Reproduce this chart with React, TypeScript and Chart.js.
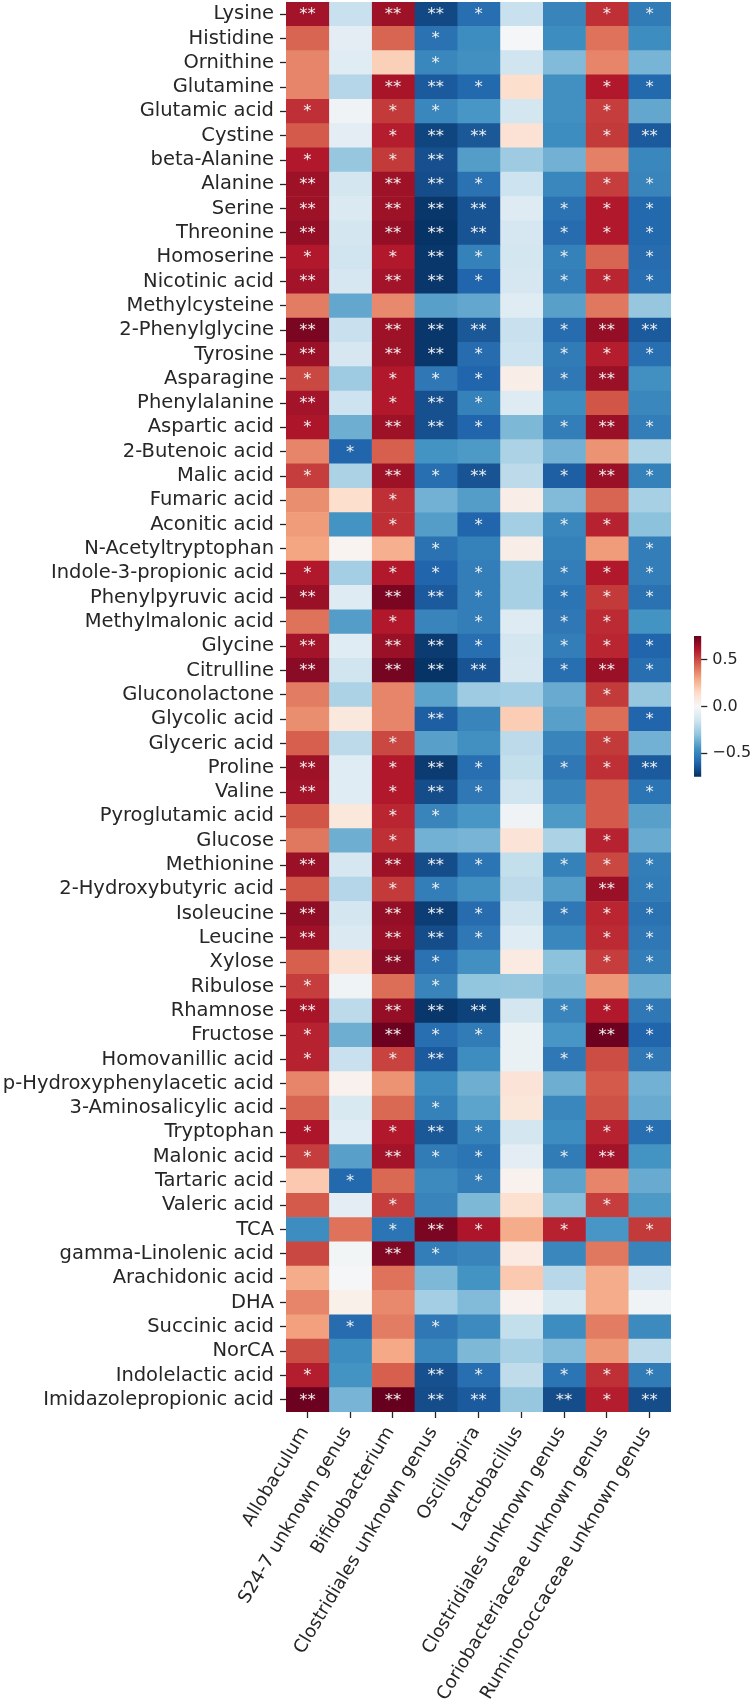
import React, { useEffect, useRef } from "react";
import { Chart, registerables } from "chart.js";

Chart.register(...registerables);

const metabolites = [
  "Lysine", "Histidine", "Ornithine", "Glutamine", "Glutamic acid", "Cystine", "beta-Alanine", "Alanine", "Serine", "Threonine",
  "Homoserine", "Nicotinic acid", "Methylcysteine", "2-Phenylglycine", "Tyrosine", "Asparagine", "Phenylalanine", "Aspartic acid", "2-Butenoic acid", "Malic acid",
  "Fumaric acid", "Aconitic acid", "N-Acetyltryptophan", "Indole-3-propionic acid", "Phenylpyruvic acid", "Methylmalonic acid", "Glycine", "Citrulline", "Gluconolactone", "Glycolic acid",
  "Glyceric acid", "Proline", "Valine", "Pyroglutamic acid", "Glucose", "Methionine", "2-Hydroxybutyric acid", "Isoleucine", "Leucine", "Xylose",
  "Ribulose", "Rhamnose", "Fructose", "Homovanillic acid", "p-Hydroxyphenylacetic acid", "3-Aminosalicylic acid", "Tryptophan", "Malonic acid", "Tartaric acid", "Valeric acid",
  "TCA", "gamma-Linolenic acid", "Arachidonic acid", "DHA", "Succinic acid", "NorCA", "Indolelactic acid", "Imidazolepropionic acid",
];

const genera = [
  "Allobaculum", "S24-7 unknown genus", "Bifidobacterium", "Clostridiales unknown genus", "Oscillospira", "Lactobacillus",
  "Clostridiales unknown genus", "Coriobacteriaceae unknown genus", "Ruminococcaceae unknown genus",
];

const allobaculum = [0.63,0.44,0.37,0.37,0.55,0.46,0.6,0.64,0.64,0.66,0.6,0.63,0.39,0.71,0.65,0.5,0.63,0.61,0.37,0.52,0.35,0.32,0.3,0.6,0.65,0.41,0.63,0.68,0.39,0.35,0.45,0.64,0.63,0.47,0.4,0.65,0.47,0.67,0.64,0.45,0.52,0.62,0.58,0.58,0.37,0.44,0.61,0.52,0.2,0.46,-0.47,0.5,0.28,0.37,0.31,0.49,0.59,0.74];
const s24 = [-0.17,-0.08,-0.09,-0.22,-0.03,-0.08,-0.29,-0.14,-0.11,-0.14,-0.15,-0.13,-0.39,-0.17,-0.13,-0.27,-0.16,-0.37,-0.6,-0.24,0.13,-0.45,0.02,-0.26,-0.1,-0.42,-0.09,-0.15,-0.24,0.08,-0.2,-0.09,-0.09,0.08,-0.37,-0.13,-0.22,-0.14,-0.11,0.11,-0.03,-0.2,-0.37,-0.17,0.03,-0.12,-0.09,-0.41,-0.59,-0.08,0.41,-0.02,-0.01,0.04,-0.58,-0.47,-0.45,-0.35];
const bifido = [0.64,0.44,0.18,0.62,0.53,0.59,0.53,0.64,0.64,0.66,0.6,0.63,0.36,0.64,0.64,0.6,0.6,0.64,0.45,0.64,0.55,0.55,0.27,0.6,0.71,0.6,0.65,0.72,0.37,0.37,0.5,0.6,0.6,0.57,0.55,0.64,0.53,0.66,0.65,0.68,0.42,0.66,0.74,0.51,0.34,0.43,0.6,0.63,0.43,0.52,-0.55,0.7,0.41,0.36,0.39,0.29,0.45,0.75];
const clostridialesA = [-0.68,-0.56,-0.49,-0.63,-0.49,-0.69,-0.66,-0.67,-0.73,-0.74,-0.73,-0.73,-0.41,-0.73,-0.73,-0.54,-0.66,-0.66,-0.45,-0.57,-0.36,-0.42,-0.56,-0.6,-0.63,-0.5,-0.72,-0.74,-0.4,-0.62,-0.41,-0.72,-0.67,-0.5,-0.36,-0.67,-0.52,-0.71,-0.67,-0.56,-0.5,-0.73,-0.57,-0.63,-0.47,-0.51,-0.64,-0.53,-0.48,-0.5,0.71,-0.52,-0.34,-0.26,-0.54,-0.49,-0.66,-0.67];
const oscillospira = [-0.57,-0.47,-0.46,-0.59,-0.44,-0.64,-0.42,-0.56,-0.65,-0.65,-0.51,-0.6,-0.39,-0.64,-0.58,-0.6,-0.51,-0.6,-0.43,-0.65,-0.42,-0.6,-0.51,-0.52,-0.52,-0.52,-0.57,-0.65,-0.27,-0.5,-0.46,-0.57,-0.54,-0.44,-0.35,-0.55,-0.46,-0.58,-0.54,-0.46,-0.3,-0.7,-0.53,-0.47,-0.37,-0.4,-0.51,-0.55,-0.52,-0.34,0.61,-0.5,-0.45,-0.33,-0.48,-0.34,-0.57,-0.63];
const lactobacillus = [-0.17,-0.01,-0.15,0.13,-0.14,0.11,-0.27,-0.16,-0.1,-0.13,-0.14,-0.13,-0.09,-0.17,-0.16,0.05,-0.1,-0.34,-0.24,-0.2,0.05,-0.26,0.05,-0.25,-0.25,-0.1,-0.14,-0.13,-0.26,0.19,-0.2,-0.18,-0.15,-0.03,0.1,-0.18,-0.2,-0.15,-0.09,0.07,-0.29,-0.14,-0.05,-0.05,0.1,0.09,-0.14,-0.08,0.03,0.12,0.28,0.07,0.2,0.03,-0.18,-0.25,-0.19,-0.29];
const clostridialesB = [-0.5,-0.47,-0.33,-0.46,-0.46,-0.47,-0.36,-0.49,-0.56,-0.58,-0.51,-0.52,-0.41,-0.58,-0.53,-0.54,-0.47,-0.52,-0.36,-0.62,-0.33,-0.49,-0.51,-0.52,-0.55,-0.54,-0.52,-0.57,-0.38,-0.41,-0.5,-0.54,-0.5,-0.43,-0.24,-0.51,-0.42,-0.54,-0.49,-0.31,-0.34,-0.5,-0.44,-0.54,-0.37,-0.49,-0.47,-0.53,-0.4,-0.32,0.58,-0.49,-0.21,-0.12,-0.47,-0.33,-0.55,-0.67];
const coriobacteriaceae = [0.55,0.41,0.37,0.6,0.52,0.53,0.38,0.52,0.6,0.6,0.44,0.57,0.4,0.66,0.59,0.65,0.47,0.65,0.34,0.65,0.44,0.58,0.32,0.6,0.53,0.56,0.57,0.65,0.53,0.42,0.53,0.55,0.46,0.46,0.58,0.5,0.65,0.57,0.56,0.52,0.33,0.6,0.74,0.49,0.46,0.48,0.58,0.63,0.37,0.52,-0.44,0.4,0.28,0.28,0.39,0.33,0.55,0.59];
const ruminococcaceae = [-0.53,-0.47,-0.35,-0.59,-0.39,-0.63,-0.49,-0.5,-0.59,-0.59,-0.58,-0.57,-0.29,-0.63,-0.57,-0.46,-0.49,-0.52,-0.23,-0.51,-0.25,-0.31,-0.52,-0.52,-0.56,-0.45,-0.6,-0.57,-0.29,-0.6,-0.36,-0.63,-0.55,-0.41,-0.38,-0.52,-0.53,-0.56,-0.54,-0.52,-0.37,-0.54,-0.6,-0.54,-0.36,-0.38,-0.57,-0.45,-0.38,-0.43,0.53,-0.5,-0.13,-0.03,-0.48,-0.2,-0.53,-0.67];

const starsAllobaculum = [2,0,0,0,1,0,1,2,2,2,1,2,0,2,2,1,2,1,0,1,0,0,0,1,2,0,2,2,0,0,0,2,2,0,0,2,0,2,2,0,1,2,1,1,0,0,1,1,0,0,0,0,0,0,0,0,1,2];
const starsS24 = [0,0,0,0,0,0,0,0,0,0,0,0,0,0,0,0,0,0,1,0,0,0,0,0,0,0,0,0,0,0,0,0,0,0,0,0,0,0,0,0,0,0,0,0,0,0,0,0,1,0,0,0,0,0,1,0,0,0];
const starsBifido = [2,0,0,2,1,1,1,2,2,2,1,2,0,2,2,1,1,2,0,2,1,1,0,1,2,1,2,2,0,0,1,1,1,1,1,2,1,2,2,2,0,2,2,1,0,0,1,2,0,1,1,2,0,0,0,0,0,2];
const starsClostridialesA = [2,1,1,2,1,2,2,2,2,2,2,2,0,2,2,1,2,2,0,1,0,0,1,1,2,0,2,2,0,2,0,2,2,1,0,2,1,2,2,1,1,2,1,2,0,1,2,1,0,0,2,1,0,0,1,0,2,2];
const starsOscillospira = [1,0,0,1,0,2,0,1,2,2,1,1,0,2,1,1,1,1,0,2,0,1,0,1,1,1,1,2,0,0,0,1,1,0,0,1,0,1,1,0,0,2,1,0,0,0,1,1,1,0,1,0,0,0,0,0,1,2];
const starsLactobacillus = [0,0,0,0,0,0,0,0,0,0,0,0,0,0,0,0,0,0,0,0,0,0,0,0,0,0,0,0,0,0,0,0,0,0,0,0,0,0,0,0,0,0,0,0,0,0,0,0,0,0,0,0,0,0,0,0,0,0];
const starsClostridialesB = [0,0,0,0,0,0,0,0,1,1,1,1,0,1,1,1,0,1,0,1,0,1,0,1,1,1,1,1,0,0,0,1,0,0,0,1,0,1,0,0,0,1,0,1,0,0,0,1,0,0,1,0,0,0,0,0,1,2];
const starsCoriobacteriaceae = [1,0,0,1,1,1,0,1,1,1,0,1,0,2,1,2,0,2,0,2,0,1,0,1,1,1,1,2,1,0,1,1,0,0,1,1,2,1,1,1,0,1,2,0,0,0,1,2,0,1,0,0,0,0,0,0,1,1];
const starsRuminococcaceae = [1,0,0,1,0,2,0,1,1,1,1,1,0,2,1,0,0,1,0,1,0,0,1,1,1,0,1,1,0,1,0,2,1,0,0,1,1,1,1,1,0,1,1,1,0,0,1,0,0,0,1,0,0,0,0,0,1,2];

const seriesValues = [allobaculum, s24, bifido, clostridialesA, oscillospira, lactobacillus, clostridialesB, coriobacteriaceae, ruminococcaceae];
const seriesStars = [starsAllobaculum, starsS24, starsBifido, starsClostridialesA, starsOscillospira, starsLactobacillus, starsClostridialesB, starsCoriobacteriaceae, starsRuminococcaceae];

const colorRange = 0.75;
const colorbarTicks = [-0.5, 0, 0.5];

// matplotlib RdBu_r anchor colours
const rdBu = [
  [5, 48, 97], [33, 102, 172], [67, 147, 195], [146, 197, 222], [209, 229, 240], [247, 247, 247],
  [253, 219, 199], [244, 165, 130], [214, 96, 77], [178, 24, 43], [103, 0, 31],
];

function colorFor(v: number): string {
  const t = Math.min(1, Math.max(0, (v + colorRange) / (2 * colorRange))) * (rdBu.length - 1);
  const i = Math.min(rdBu.length - 2, Math.floor(t));
  const f = t - i;
  const c = rdBu[i].map((a, k) => Math.round(a + (rdBu[i + 1][k] - a) * f));
  return `rgb(${c[0]},${c[1]},${c[2]})`;
}

const FONT = "'DejaVu Sans'";
const INK = "#262626";

const starsPlugin = {
  id: "cellStars",
  afterDatasetsDraw(chart: any) {
    const { ctx, scales } = chart;
    ctx.save();
    ctx.fillStyle = "#f0f0f0";
    ctx.font = `16.5px ${FONT}`;
    ctx.textAlign = "center";
    ctx.textBaseline = "middle";
    seriesStars.forEach((col, j) => {
      col.forEach((n, i) => {
        if (!n) return;
        ctx.fillText("*".repeat(n), scales.x.getPixelForValue(j + 0.5), scales.y.getPixelForValue(i) + 0.6);
      });
    });
    ctx.restore();
  },
};

function clearPadding(scale: any) {
  scale.paddingTop = 0;
  scale.paddingBottom = 0;
  scale.paddingLeft = 0;
  scale.paddingRight = 0;
}

export default function App() {
  const heatRef = useRef<HTMLCanvasElement>(null);
  const barRef = useRef<HTMLCanvasElement>(null);

  useEffect(() => {
    document.body.style.margin = "0";
    const heat = new Chart(heatRef.current!, {
      type: "bar",
      data: {
        labels: metabolites,
        datasets: seriesValues.map((col, j) => ({
          label: genera[j],
          data: col.map(() => 1),
          backgroundColor: col.map(colorFor),
          borderWidth: 0,
          categoryPercentage: 1,
          barPercentage: 1,
        })),
      },
      options: {
        indexAxis: "y",
        responsive: false,
        animation: false,
        layout: { autoPadding: false, padding: { top: 2, right: 81, left: 0, bottom: 0 } },
        plugins: { legend: { display: false }, tooltip: { enabled: false } },
        scales: {
          x: {
            type: "linear",
            stacked: true,
            min: 0,
            max: genera.length,
            afterBuildTicks(scale: any) {
              scale.ticks = genera.map((_, j) => ({ value: j + 0.5 }));
            },
            afterFit(scale: any) {
              scale.height = 287;
              clearPadding(scale);
            },
            border: { display: false },
            grid: { drawOnChartArea: false, drawTicks: true, tickLength: 6, tickColor: INK, tickWidth: 1.3 },
            ticks: {
              autoSkip: false,
              minRotation: 59,
              maxRotation: 59,
              padding: 5,
              labelOffset: -2.5,
              color: INK,
              font: { family: FONT, size: 18.2 },
              callback: (v: any) => genera[Math.floor(Number(v))],
            },
          },
          y: {
            type: "category",
            stacked: true,
            afterFit(scale: any) {
              scale.width = 286;
              clearPadding(scale);
            },
            border: { display: false },
            grid: { offset: false, drawOnChartArea: false, drawTicks: true, tickLength: 6, tickColor: INK, tickWidth: 1.3 },
            ticks: {
              autoSkip: false,
              padding: 6,
              color: INK,
              font: { family: FONT, size: 19.5 },
            },
          },
        },
      },
      plugins: [starsPlugin],
    } as any);

    const bar = new Chart(barRef.current!, {
      type: "bar",
      data: {
        labels: [""],
        datasets: [
          {
            data: [[-colorRange, colorRange]],
            barPercentage: 1,
            categoryPercentage: 1,
            borderWidth: 0,
            backgroundColor(context: any) {
              const { chart } = context;
              const y = chart.scales.y;
              const area = chart.chartArea;
              if (!area || !y) return "#888";
              const g = chart.ctx.createLinearGradient(0, y.getPixelForValue(-colorRange), 0, y.getPixelForValue(colorRange));
              rdBu.forEach((c, i) => g.addColorStop(i / (rdBu.length - 1), `rgb(${c[0]},${c[1]},${c[2]})`));
              return g;
            },
          },
        ],
      },
      options: {
        responsive: false,
        animation: false,
        layout: { autoPadding: false, padding: { top: 6, bottom: 5.3, left: 4, right: 0 } },
        plugins: { legend: { display: false }, tooltip: { enabled: false } },
        scales: {
          x: { display: false },
          y: {
            type: "linear",
            position: "right",
            min: -colorRange,
            max: colorRange,
            afterBuildTicks(scale: any) {
              scale.ticks = colorbarTicks.map((value) => ({ value }));
            },
            afterFit(scale: any) {
              scale.width = 50.7;
              clearPadding(scale);
            },
            border: { display: false },
            grid: { drawOnChartArea: false, drawTicks: true, tickLength: 6, tickColor: INK, tickWidth: 1.3 },
            ticks: {
              padding: 5,
              color: INK,
              font: { family: FONT, size: 16 },
              callback: (v: any) => Number(v).toFixed(1).replace("-", "\u2212"),
            },
          },
        },
      },
    } as any);

    return () => {
      heat.destroy();
      bar.destroy();
    };
  }, []);

  return (
    <div style={{ position: "relative", width: 752, height: 1699, background: "#fff" }}>
      <canvas ref={heatRef} width={752} height={1699} style={{ position: "absolute", left: 0, top: 0 }} />
      <canvas ref={barRef} width={62} height={152} style={{ position: "absolute", left: 690, top: 630 }} />
    </div>
  );
}
